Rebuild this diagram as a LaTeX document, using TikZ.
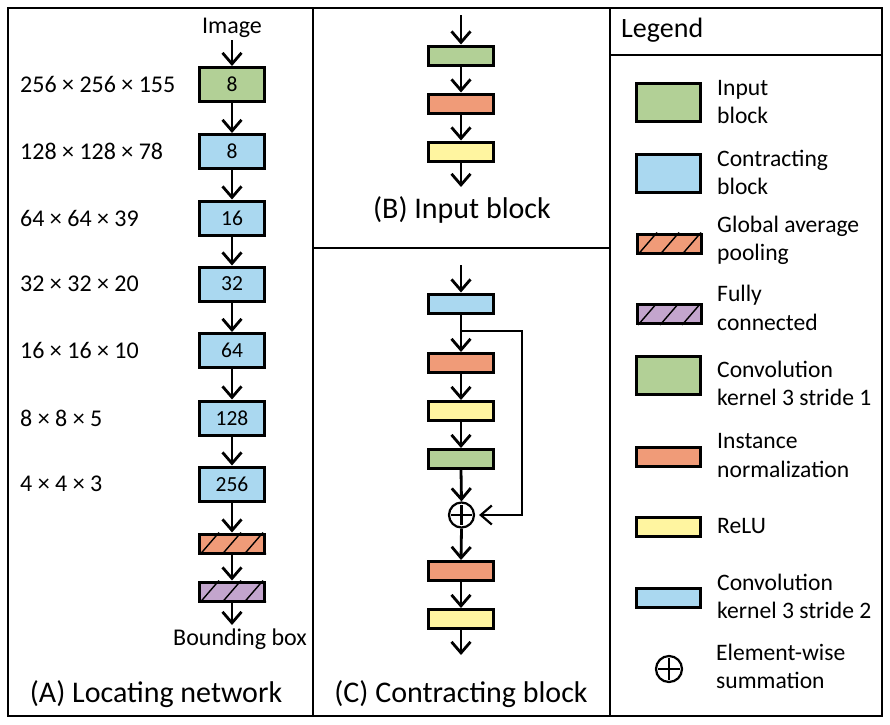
\documentclass[tikz,border=0pt]{standalone}
\usepackage{fontspec}
\setmainfont{Carlito}
\usetikzlibrary{arrows.meta}
\definecolor{cgreen}{RGB}{178,208,150}
\definecolor{cblue}{RGB}{170,216,240}
\definecolor{corange}{RGB}{240,155,120}
\definecolor{cyellow}{RGB}{255,245,160}
\definecolor{cpurple}{RGB}{195,165,205}
\newcommand\hatchit[1]{%
  \begin{scope}
    \clip (#1.south west) rectangle (#1.north east);
    \foreach \k in {-1,0,1,2,3}
      \draw[line width=1.4pt] ([xshift=\k*22pt+2pt]#1.south west) -- ([xshift=\k*22pt+21pt]#1.north west);
  \end{scope}}
\begin{document}
\begin{tikzpicture}[x=1pt,y=-1pt,
  blk/.style={draw, line width=3pt, minimum width=65pt, minimum height=34pt, inner sep=0pt, font=\fontsize{21.5}{24}\selectfont},
  thinblk/.style={blk, minimum height=19pt},
  lgbig/.style={draw, line width=3pt, minimum width=64pt, minimum height=38pt, inner sep=0pt},
  lgthin/.style={lgbig, minimum height=19pt},
  lbl/.style={font=\fontsize{24}{28}\selectfont, inner sep=0pt},
  lgtxt/.style={lbl, font=\fontsize{23.6}{28}\selectfont, anchor=base west},
  captxt/.style={font=\fontsize{30}{34}\selectfont, inner sep=0pt, anchor=base},
  arr/.style={line width=2.8pt, -{Straight Barb[length=11pt,width=19pt]}},
  frame/.style={line width=2.2pt},
  sumnode/.style={circle, draw, line width=2.2pt, minimum size=25pt, inner sep=0pt}]
\useasboundingbox (0,0) rectangle (890,724);
% frames
\draw[frame] (8,8) rectangle (882,716);
\draw[frame] (313,8) -- (313,716);
\draw[frame] (610,8) -- (610,716);
\draw[frame] (313,248) -- (610,248);
\draw[frame] (610,55) -- (882,55);

% ---------- Panel A ----------
\node[lbl, anchor=base] (img) at (232,33) {Image};
\node[blk, fill=cgreen] (a1) at (232,84.5) {8};
\node[blk, fill=cblue] (a2) at (232,151.5) {8};
\node[blk, fill=cblue] (a3) at (232,218) {16};
\node[blk, fill=cblue] (a4) at (232,284) {32};
\node[blk, fill=cblue] (a5) at (232,350.5) {64};
\node[blk, fill=cblue] (a6) at (232,418) {128};
\node[blk, fill=cblue] (a7) at (232,484) {256};
\node[thinblk, fill=corange] (a8) at (232,543.5) {};
\node[thinblk, fill=cpurple] (a9) at (232,591.5) {};
\hatchit{a8}
\hatchit{a9}
\node[lbl, anchor=base] (bb) at (240,645) {Bounding box};

\node[lbl, anchor=west] (d1) at (20,84.5) {256 × 256 × 155};
\node[lbl, anchor=west] (d2) at (20,151.5) {128 × 128 × 78};
\node[lbl, anchor=west] (d3) at (20,218) {64 × 64 × 39};
\node[lbl, anchor=west] (d4) at (20,284) {32 × 32 × 20};
\node[lbl, anchor=west] (d5) at (20,350.5) {16 × 16 × 10};
\node[lbl, anchor=west] (d6) at (20,418) {8 × 8 × 5};
\node[lbl, anchor=west] (d7) at (20,484) {4 × 4 × 3};

\draw[arr, shorten <=3pt] (img.south) -- (a1.north);
\draw[arr] (a1.south) -- (a2.north);
\draw[arr] (a2.south) -- (a3.north);
\draw[arr] (a3.south) -- (a4.north);
\draw[arr] (a4.south) -- (a5.north);
\draw[arr] (a5.south) -- (a6.north);
\draw[arr] (a6.south) -- (a7.north);
\draw[arr] (a7.south) -- (a8.north);
\draw[arr] (a8.south) -- (a9.north);
\coordinate (aend) at (232,625);
\draw[arr] (a9.south) -- (aend);

\node[captxt] (capA) at (156,702) {(A) Locating network};

% ---------- Panel B ----------
\coordinate (btop) at (461,15);
\node[thinblk, fill=cgreen] (b1) at (461,55.5) {};
\node[thinblk, fill=corange] (b2) at (461,103.5) {};
\node[thinblk, fill=cyellow] (b3) at (461,151.5) {};
\coordinate (bend) at (461,187);
\draw[arr] (btop) -- (b1.north);
\draw[arr] (b1.south) -- (b2.north);
\draw[arr] (b2.south) -- (b3.north);
\draw[arr] (b3.south) -- (bend);
\node[captxt] (capB) at (462,218) {(B) Input block};

% ---------- Panel C ----------
\coordinate (ctop) at (461,265);
\node[thinblk, fill=cblue] (c1) at (461,303.5) {};
\node[thinblk, fill=corange] (c2) at (461,363) {};
\node[thinblk, fill=cyellow] (c3) at (461,411) {};
\node[thinblk, fill=cgreen] (c4) at (461,459) {};
\node[sumnode] (sum) at (461.5,515) {};
\draw[line width=2.2pt] ([xshift=3.5pt]sum.west) -- ([xshift=-3.5pt]sum.east);
\draw[line width=2.2pt] ([yshift=-3.5pt]sum.north) -- ([yshift=3.5pt]sum.south);
\node[thinblk, fill=corange] (c5) at (461,571) {};
\node[thinblk, fill=cyellow] (c6) at (461,619) {};
\coordinate (cend) at (461,655);
\coordinate (br) at (461,331);
\coordinate (sk1) at (522,331);
\coordinate (sk2) at (522,515);
\draw[arr] (ctop) -- (c1.north);
\draw[arr] (c1.south) -- (c2.north);
\draw[arr] (c2.south) -- (c3.north);
\draw[arr] (c3.south) -- (c4.north);
\draw[arr] (c4.south) -- (sum.north);
\draw[arr] (sum.south) -- (c5.north);
\draw[arr] (c5.south) -- (c6.north);
\draw[arr] (c6.south) -- (cend);
\draw[arr, line width=2.2pt, line join=miter] (br) -- (sk1) -- (sk2) -- ([xshift=4pt]sum.east);
\node[captxt] (capC) at (461,702) {(C) Contracting block};

% ---------- Legend ----------
\node[font=\fontsize{28}{32}\selectfont, inner sep=0pt, anchor=base west] (lgt) at (621,37) {Legend};
\node[lgbig, fill=cgreen] (l1) at (668.5,102.5) {};
\node[lgbig, fill=cblue] (l2) at (668.5,173) {};
\node[lgthin, fill=corange] (l3) at (669.5,243.5) {};
\node[lgthin, fill=cpurple] (l4) at (669.5,314) {};
\hatchit{l3}
\hatchit{l4}
\node[lgbig, fill=cgreen] (l5) at (668.5,375) {};
\node[lgthin, fill=corange] (l6) at (668.5,456.5) {};
\node[lgthin, fill=cyellow] (l7) at (668.5,527) {};
\node[lgthin, fill=cblue] (l8) at (668.5,598) {};
\node[sumnode, minimum size=26pt] (l9) at (669,669) {};
\draw[line width=2.2pt] ([xshift=3.5pt]l9.west) -- ([xshift=-3.5pt]l9.east);
\draw[line width=2.2pt] ([yshift=-3.5pt]l9.north) -- ([yshift=3.5pt]l9.south);

\node[lgtxt] (t1a) at (717,95) {Input};
\node[lgtxt] (t1b) at (717,123) {block};
\node[lgtxt] (t2a) at (717,166) {Contracting};
\node[lgtxt] (t2b) at (717,194) {block};
\node[lgtxt] (t3a) at (717,232) {Global average};
\node[lgtxt] (t3b) at (717,260) {pooling};
\node[lgtxt] (t4a) at (717,301) {Fully};
\node[lgtxt] (t4b) at (717,330) {connected};
\node[lgtxt] (t5a) at (717,377) {Convolution};
\node[lgtxt] (t5b) at (717,405) {kernel 3 stride 1};
\node[lgtxt] (t6a) at (717,448) {Instance};
\node[lgtxt] (t6b) at (717,477) {normalization};
\node[lgtxt] (t7a) at (717,533) {ReLU};
\node[lgtxt] (t8a) at (717,590) {Convolution};
\node[lgtxt] (t8b) at (717,618) {kernel 3 stride 2};
\node[lgtxt] (t9a) at (716,660) {Element-wise};
\node[lgtxt] (t9b) at (716,688) {summation};
\end{tikzpicture}
\end{document}
